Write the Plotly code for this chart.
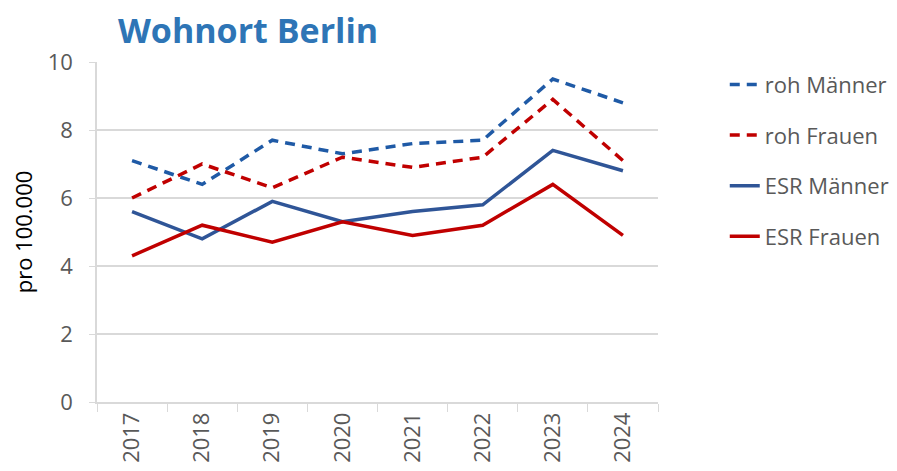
import plotly.graph_objects as go

years = ["2017", "2018", "2019", "2020", "2021", "2022", "2023", "2024"]
roh_maenner = [7.1, 6.4, 7.7, 7.3, 7.6, 7.7, 9.5, 8.8]
roh_frauen = [6.0, 7.0, 6.3, 7.2, 6.9, 7.2, 8.9, 7.1]
esr_maenner = [5.6, 4.8, 5.9, 5.3, 5.6, 5.8, 7.4, 6.8]
esr_frauen = [4.3, 5.2, 4.7, 5.3, 4.9, 5.2, 6.4, 4.9]

series = [
    ("roh Männer", roh_maenner, "#1F5AA6", "10px,7px"),
    ("roh Frauen", roh_frauen, "#C00000", "10px,7px"),
    ("ESR Männer", esr_maenner, "#2F5597", "solid"),
    ("ESR Frauen", esr_frauen, "#C00000", "solid"),
]

FONT = "Open Sans, Segoe UI, sans-serif"
fig = go.Figure()
for i, (name, vals, col, dash) in enumerate(series):
    fig.add_trace(go.Scatter(
        x=years, y=vals, name=name, mode="lines",
        legendgroup=f"g{i}",
        line=dict(color=col, width=3.5, dash=dash),
    ))

fig.update_layout(
    width=897, height=471,
    margin=dict(l=89, r=247, t=54, b=77, autoexpand=False),
    paper_bgcolor="white", plot_bgcolor="white",
    font=dict(family=FONT, size=22, color="#595959"),
    title=dict(text="<b>Wohnort Berlin</b>", x=110/897, xanchor="left",
               y=1 - 23/471, yanchor="middle",
               font=dict(family=FONT, size=34, color="#2E75B6")),
    legend=dict(x=1.119, xanchor="left", y=0.995, yanchor="top",
                font=dict(family=FONT, size=22, color="#595959"),
                tracegroupgap=19, bgcolor="rgba(0,0,0,0)"),
    showlegend=True,
)
fig.update_xaxes(
    type="category", tickangle=-90, tickson="boundaries",
    range=[-0.5, len(years) - 0.5], automargin=False,
    ticks="outside", ticklen=8, tickcolor="#D9D9D9",
    showline=True, linecolor="#D9D9D9", linewidth=1.5,
    showgrid=False, tickfont=dict(size=22, color="#595959"),
)
fig.update_yaxes(
    range=[0, 10], dtick=2, tick0=0, automargin=False,
    ticks="outside", ticklen=6, tickcolor="#D9D9D9",
    ticklabelstandoff=12,
    showline=True, linecolor="#D9D9D9", linewidth=1.5,
    showgrid=True, gridcolor="#D9D9D9", gridwidth=1.5,
    zeroline=False,
    tickfont=dict(size=22, color="#595959"),
    title=dict(text="pro 100.000", font=dict(size=22, color="#000000"), standoff=12),
)

fig.write_html("out.html")
